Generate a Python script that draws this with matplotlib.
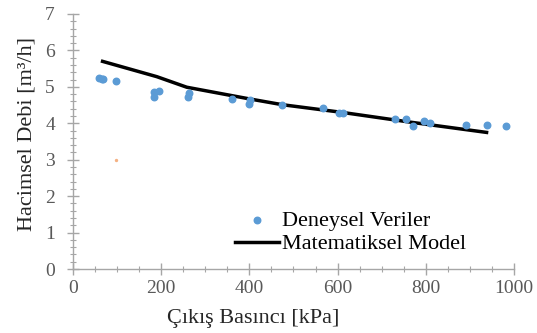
import numpy as np
import matplotlib.pyplot as plt
from matplotlib.ticker import MultipleLocator

# Measured flow rate vs. outlet pressure
exp_p = [59, 66, 69, 97, 183, 183, 196, 260, 264, 360, 399, 401, 475,
         568, 604, 613, 731, 755, 770, 796, 809, 892, 938, 981]
exp_q = [5.23, 5.22, 5.21, 5.16, 4.85, 4.72, 4.90, 4.72, 4.84, 4.66, 4.54, 4.64, 4.51,
         4.43, 4.29, 4.27, 4.12, 4.13, 3.93, 4.06, 4.00, 3.95, 3.95, 3.93]

# Model prediction
model_p = [67, 190, 258, 400, 475, 610, 760, 938]
model_q = [5.70, 5.28, 4.99, 4.67, 4.51, 4.30, 4.04, 3.75]

# stray point left in the sheet
extra_p = [97]
extra_q = [2.99]

plt.rcParams['font.family'] = ['Liberation Serif', 'DejaVu Serif']

fig = plt.figure(figsize=(5.37, 3.33), dpi=100)
ax = fig.add_axes([0.136, 0.192, 0.821, 0.766])

ax.scatter(exp_p, exp_q, s=22, color='#5b9bd5', zorder=3, label='Deneysel Veriler')
ax.plot(model_p, model_q, color='black', lw=2.5, zorder=2, label='Matematiksel Model')
ax.scatter(extra_p, extra_q, s=2, color='#f4b183', zorder=1)

ax.set_xlim(0, 1000)
ax.set_ylim(0, 7)
ax.xaxis.set_major_locator(MultipleLocator(200))
ax.xaxis.set_minor_locator(MultipleLocator(50))
ax.yaxis.set_major_locator(MultipleLocator(1))
ax.yaxis.set_minor_locator(MultipleLocator(0.2))

for side in ['top', 'right']:
    ax.spines[side].set_visible(False)
for side in ['left', 'bottom']:
    ax.spines[side].set_color('#a6a6a6')
    ax.spines[side].set_linewidth(1.0)

ax.tick_params(which='major', direction='inout', length=8, width=1, color='#a6a6a6',
               labelsize=14, labelcolor='#595959')
ax.tick_params(axis='y', which='major', pad=9)
ax.tick_params(axis='x', which='major', pad=4)
ax.tick_params(which='minor', direction='inout', length=4, width=0.8, color='#a6a6a6')

ax.set_xlabel('Çıkış Basıncı [kPa]', fontsize=16, color='#262626')
ax.xaxis.set_label_coords(0.408, -0.155)
ax.set_ylabel('Hacimsel Debi [m³/h]', fontsize=16, color='#262626')
ax.yaxis.set_label_coords(-0.082, 0.53)

ax.legend(loc='lower left', bbox_to_anchor=(0.342, 0.014), frameon=False, fontsize=16,
          handlelength=2.0, handletextpad=0.1, labelspacing=0.12, borderpad=0,
          scatterpoints=1)

fig.savefig('out.png', dpi=100)
